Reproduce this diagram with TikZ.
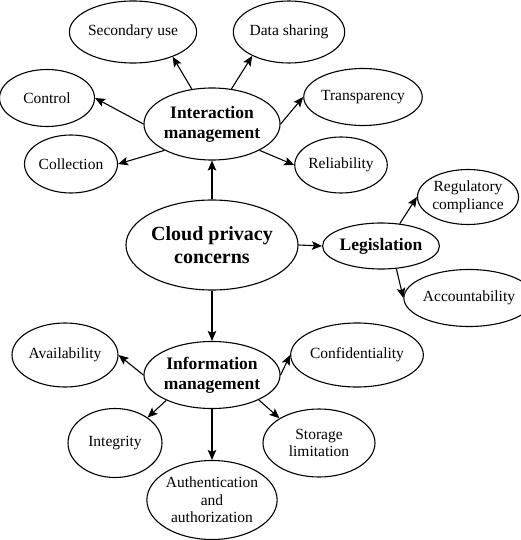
\documentclass[tikz,border=0pt]{standalone}
\usepackage{fontspec}
\setmainfont{Liberation Serif}
\usetikzlibrary{shapes.geometric,arrows.meta}
\begin{document}
\begin{tikzpicture}[x=1pt,y=-1pt,
 leaf/.style={ellipse,draw,line width=1.1pt,inner sep=0pt,align=center,font=\fontsize{15.5}{17.5}\selectfont},
 hub/.style={leaf,font=\fontsize{17.5}{20}\selectfont\bfseries},
 root/.style={leaf,font=\fontsize{20}{23}\selectfont\bfseries},
 conn/.style={line width=1.1pt,-{Stealth[length=10pt,width=8.5pt,inset=2pt]}}]
\useasboundingbox (0,0) rectangle (520,540);
% hubs
\node[root,minimum width=141pt,minimum height=90pt] (cloud) at (212,245) {Cloud privacy\\concerns};
\node[hub,minimum width=126pt,minimum height=72pt] (im) at (212,124) {Interaction\\management};
\node[hub,minimum width=125pt,minimum height=67pt] (inf) at (212,375) {Information\\management};
\node[hub,minimum width=107pt,minimum height=46pt] (leg) at (381,246) {Legislation};
% interaction leaves
\node[leaf,minimum width=109pt,minimum height=62pt] (sec) at (133,32) {Secondary use};
\node[leaf,minimum width=106pt,minimum height=62pt] (data) at (289,32) {Data sharing};
\node[leaf,minimum width=95pt,minimum height=57pt] (ctrl) at (47,98) {Control};
\node[leaf,minimum width=93pt,minimum height=58pt] (coll) at (71,164) {Collection};
\node[leaf,minimum width=91pt,minimum height=57pt] (trans) at (363,97) {Transparency};
\node[leaf,minimum width=92pt,minimum height=56pt] (rel) at (341,165) {Reliability};
% legislation leaves
\node[leaf,minimum width=100pt,minimum height=55pt] (reg) at (468,197) {Regulatory\\compliance};
\node[leaf,minimum width=101pt,minimum height=57pt] (acc) at (469,298) {Accountability};
% information leaves
\node[leaf,minimum width=106pt,minimum height=64pt] (avail) at (65,355) {Availability};
\node[leaf,minimum width=102pt,minimum height=64pt] (conf) at (357,355) {Confidentiality};
\node[leaf,minimum width=94pt,minimum height=69pt] (integ) at (115,443) {Integrity};
\node[leaf,minimum width=112pt,minimum height=68pt] (stor) at (319,443) {Storage\\limitation};
\node[leaf,minimum width=113pt,minimum height=79pt] (auth) at (212,500) {Authentication\\and\\authorization};
% connectors
\draw[conn] (cloud.north) -- (im.south);
\draw[conn] (cloud.east) -- (leg.west);
\draw[conn] (cloud.south) -- (inf.north);
\draw[conn] (im.120) -- (sec.-32);
\draw[conn] (im.61) -- (data.213);
\draw[conn] (im.west) -- (ctrl.east);
\draw[conn] (im.209) -- (coll.east);
\draw[conn] (im.east) -- (trans.west);
\draw[conn] (im.-29.5) -- (rel.west);
\draw[conn] (leg.50) -- (reg.west);
\draw[conn] (leg.-56) -- (acc.west);
\draw[conn] (inf.west) -- (avail.east);
\draw[conn] (inf.east) -- (conf.west);
\draw[conn] (inf.209) -- (integ.38);
\draw[conn] (inf.-28) -- (stor.148);
\draw[conn] (inf.south) -- (auth.north);
\end{tikzpicture}
\end{document}
